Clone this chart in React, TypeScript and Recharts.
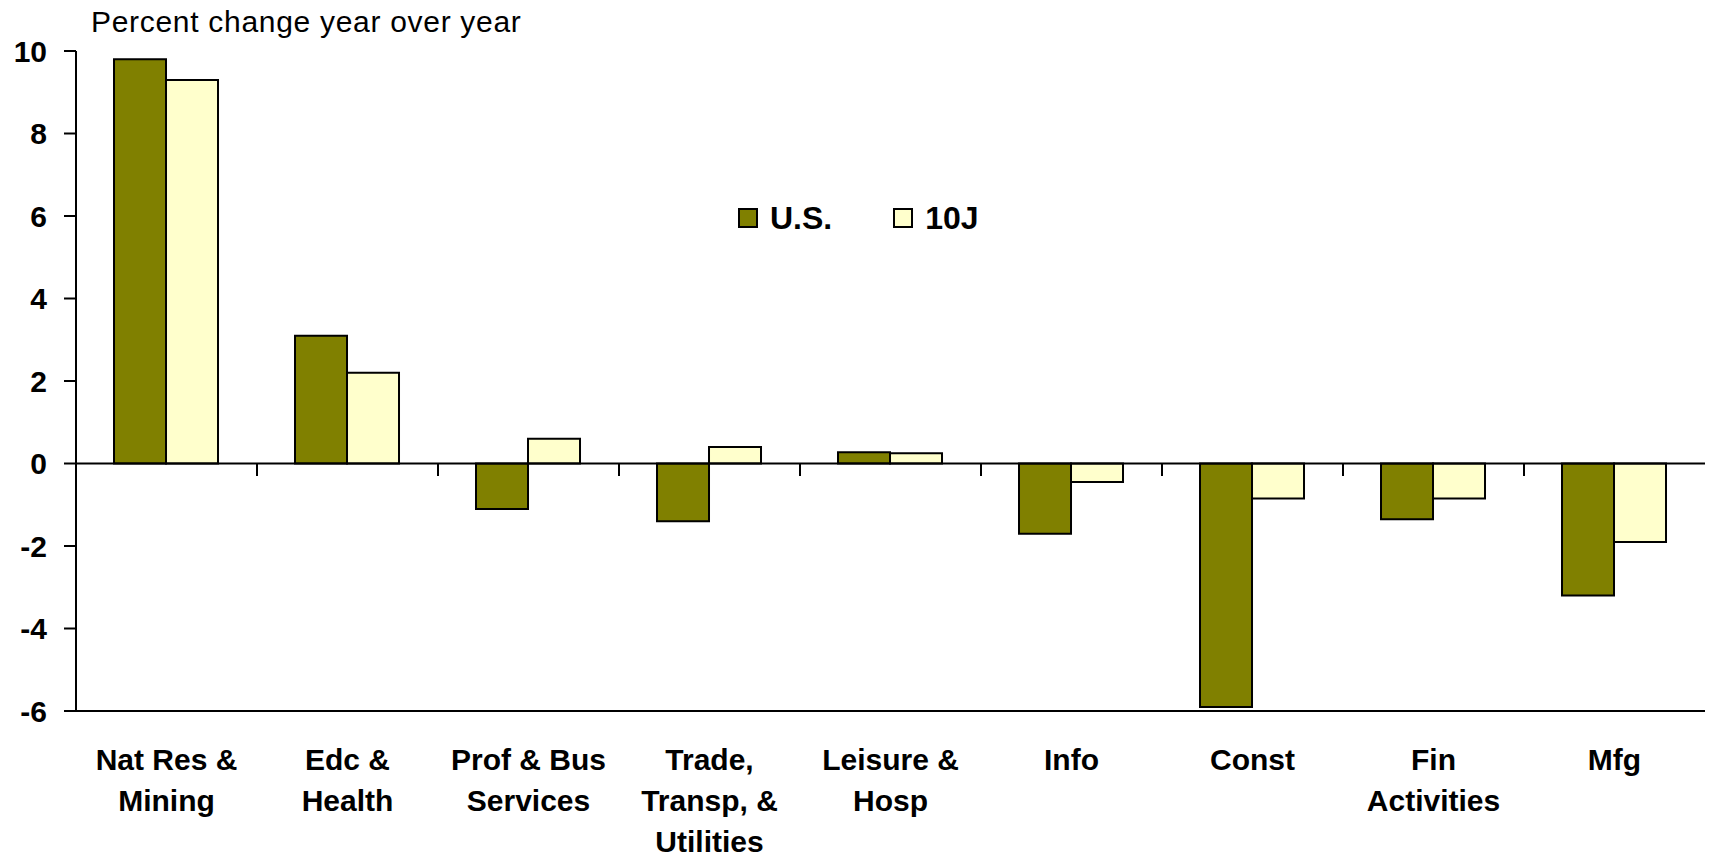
import React from 'react';
import { BarChart, Bar, XAxis, YAxis, ReferenceLine, Legend } from 'recharts';

const FONT = '"Liberation Sans", Arial, sans-serif';

const categories = [
  'Nat Res &\nMining',
  'Edc &\nHealth',
  'Prof & Bus\nServices',
  'Trade,\nTransp, &\nUtilities',
  'Leisure &\nHosp',
  'Info',
  'Const',
  'Fin\nActivities',
  'Mfg',
];
const usValues = [9.8, 3.1, -1.1, -1.4, 0.27, -1.7, -5.9, -1.35, -3.2];
const tenJValues = [9.3, 2.2, 0.6, 0.4, 0.25, -0.45, -0.85, -0.85, -1.9];
const yTicks = [-6, -4, -2, 0, 2, 4, 6, 8, 10];

const seriesKeys = ['us', 'tenJ'];
const seriesNames: Record<string, string> = { us: 'U.S.', tenJ: '10J' };
const seriesColors: Record<string, string> = { us: '#808000', tenJ: '#FFFFCC' };

const data = categories.map((name, i) => ({ name, us: usValues[i], tenJ: tenJValues[i] }));

const CategoryTick = ({ x, y, payload }: any) => {
  const lines = String(payload.value).split('\n');
  return (
    <text x={x} y={y} textAnchor="middle" fontSize={30} fontWeight="bold" fill="#000" fontFamily={FONT}>
      {lines.map((line, i) => (
        <tspan key={i} x={x} dy={i === 0 ? 59 : 41}>
          {line}
        </tspan>
      ))}
    </text>
  );
};

const LegendContent = () => (
  <div style={{ display: 'flex', alignItems: 'center', fontFamily: FONT, fontWeight: 'bold', fontSize: 32, lineHeight: '36px', color: '#000' }}>
    {seriesKeys.map((key) => (
      <div key={key} style={{ display: 'flex', alignItems: 'center', marginRight: 61 }}>
        <span style={{ display: 'inline-block', width: 16, height: 16, background: seriesColors[key], border: '2px solid #000', marginRight: 12 }} />
        <span>{seriesNames[key]}</span>
      </div>
    ))}
  </div>
);

export default function App() {
  return (
    <div style={{ position: 'absolute', left: 0, top: 0, width: 1710, height: 858, background: '#fff' }}>
      <div
        style={{
          position: 'absolute',
          left: 91,
          top: 7,
          fontFamily: FONT,
          fontSize: 30,
          lineHeight: '30px',
          letterSpacing: 0.7,
          color: '#000',
          whiteSpace: 'nowrap',
        }}
      >
        Percent change year over year
      </div>
      <BarChart
        width={1710}
        height={858}
        data={data}
        margin={{ top: 51, right: 5, left: 0, bottom: 0 }}
        barCategoryGap="21%"
        barGap={0}
      >
        <XAxis
          dataKey="name"
          interval={0}
          height={147}
          tickLine={false}
          tickSize={0}
          tickMargin={0}
          axisLine={{ stroke: '#000', strokeWidth: 2 }}
          tick={<CategoryTick />}
        />
        <XAxis
          xAxisId="top"
          orientation="top"
          dataKey="name"
          height={0}
          tick={false}
          tickLine={false}
          axisLine={{ stroke: '#000', strokeWidth: 2 }}
        />
        <YAxis
          domain={[-6, 10]}
          ticks={yTicks}
          interval={0}
          width={76}
          tickSize={12}
          tickMargin={17}
          axisLine={{ stroke: '#000', strokeWidth: 2 }}
          tickLine={{ stroke: '#000', strokeWidth: 2 }}
          tick={{ fill: '#000', fontSize: 30, fontWeight: 'bold', fontFamily: FONT }}
        />
        <YAxis
          yAxisId="right"
          orientation="right"
          domain={[-6, 10]}
          width={0}
          tick={false}
          tickLine={false}
          axisLine={{ stroke: '#000', strokeWidth: 2 }}
        />
        <Legend verticalAlign="middle" align="center" content={<LegendContent />} wrapperStyle={{ top: 200, left: 738, width: 'auto' }} />
        {seriesKeys.map((key) => (
          <Bar
            key={key}
            dataKey={key}
            name={seriesNames[key]}
            fill={seriesColors[key]}
            stroke="#000"
            strokeWidth={2}
            isAnimationActive={false}
          />
        ))}
        <ReferenceLine y={0} stroke="#000" strokeWidth={2} />
        {categories.slice(1).map((cat) => (
          <ReferenceLine
            key={cat}
            position="start"
            segment={[
              { x: cat, y: 0 },
              { x: cat, y: -0.3 },
            ]}
            stroke="#000"
            strokeWidth={2}
          />
        ))}
      </BarChart>
    </div>
  );
}
